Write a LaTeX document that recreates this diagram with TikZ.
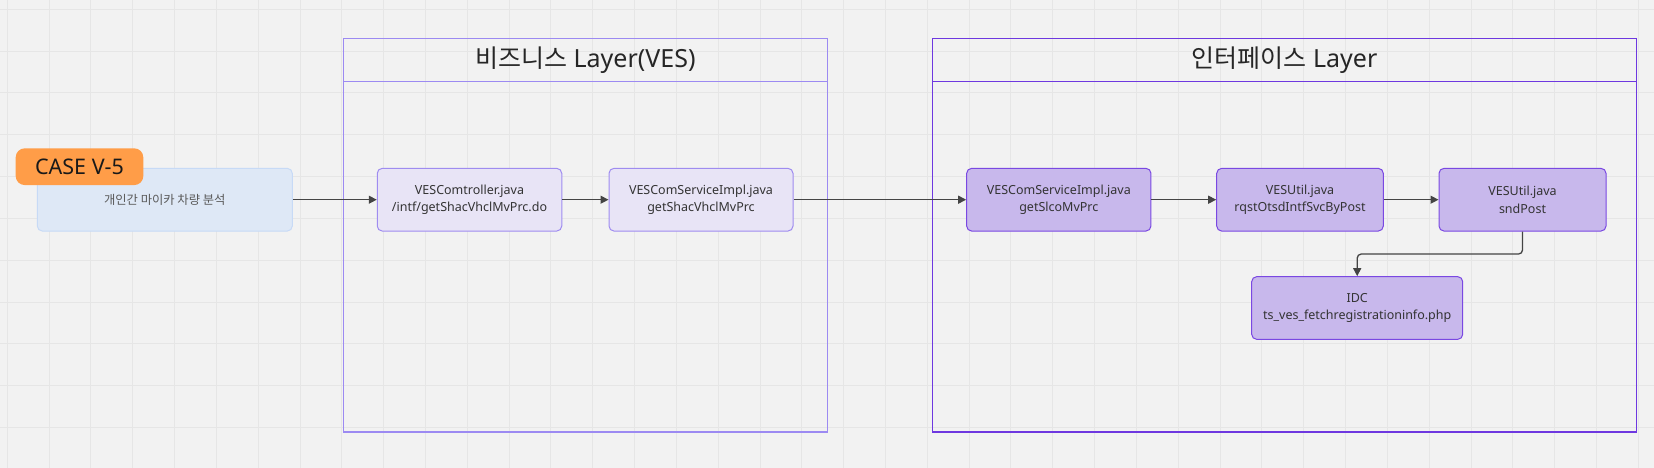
\documentclass[tikz,border=0pt]{standalone}
\usepackage{fontspec}
\setmainfont{Noto Sans}
\newfontfamily\krfont{Noto Sans CJK KR}
\usetikzlibrary{arrows.meta, calc}

\definecolor{bgpaper}{HTML}{F2F2F2}
\definecolor{gridline}{HTML}{E6E6E6}
\definecolor{bizframe}{HTML}{9C8AF2}
\definecolor{intframe}{HTML}{6E38E0}
\definecolor{bizfill}{HTML}{E8E4F6}
\definecolor{bizdraw}{HTML}{9F8CF0}
\definecolor{intfill}{HTML}{C8B8EC}
\definecolor{intdraw}{HTML}{7A48E2}
\definecolor{casefill}{HTML}{DEE8F6}
\definecolor{casedraw}{HTML}{C7DAF6}
\definecolor{badgefill}{HTML}{FF9D48}
\definecolor{inktext}{HTML}{333333}
\definecolor{flowline}{HTML}{444444}

\tikzset{
  layerbiz/.style={draw=bizframe, line width=1.1pt, minimum width=484pt, minimum height=393.7pt, inner sep=0pt},
  layerint/.style={draw=intframe, line width=1.1pt, minimum width=704.4pt, minimum height=393.7pt, inner sep=0pt},
  layertitle/.style={text=black!85, font=\fontsize{25}{30}\selectfont},
  casebox/.style={draw=casedraw, fill=casefill, line width=1pt, rounded corners=5pt, minimum width=255pt, minimum height=62.7pt, inner sep=0pt, text=black!65, font=\krfont\fontsize{12.3}{15}\selectfont},
  badge/.style={fill=badgefill, rounded corners=9pt, minimum width=127.6pt, minimum height=36.7pt, inner sep=0pt, text=black!90, font=\fontsize{21.5}{25}\selectfont},
  bizbox/.style={draw=bizdraw, fill=bizfill, line width=1pt, rounded corners=5pt, minimum height=62.7pt, inner sep=0pt, align=center, text=inktext, font=\fontsize{12.5}{17.6}\selectfont},
  intbox/.style={bizbox, draw=intdraw, fill=intfill},
  flow/.style={draw=flowline, line width=1.3pt, -{Triangle[length=8pt,width=8pt]}}
}

\begin{document}
\begin{tikzpicture}[x=1pt, y=-1pt]
      \useasboundingbox (0,0) rectangle (1654,468);
      \fill[bgpaper] (0,0) rectangle (1654,468);

      % paper grid
      \foreach \i in {0,...,39}
        \draw[gridline, line width=1pt] ({7.3+41.82*\i},0) -- ({7.3+41.82*\i},468);
      \foreach \j in {0,...,11}
        \draw[gridline, line width=1pt] (0,{9.3+41.82*\j}) -- (1654,{9.3+41.82*\j});

      % layers
      \node[layerbiz] (bizlayer) at (585.3,235.15) {};
      \node[layerint] (intlayer) at (1284.5,235.15) {};
      \draw[bizframe, line width=1.1pt] ([yshift=-43.4pt]bizlayer.north west) -- ([yshift=-43.4pt]bizlayer.north east);
      \draw[intframe, line width=1.1pt] ([yshift=-43.4pt]intlayer.north west) -- ([yshift=-43.4pt]intlayer.north east);
      \node[layertitle] (biztitle) at (585.3,60) {{\krfont 비즈니스} Layer(VES)};
      \node[layertitle] (inttitle) at (1284.5,60) {{\krfont 인터페이스} Layer};

      % case
      \node[casebox] (case) at (164.8,199.7) {개인간 마이카 차량 분석};
      \node[badge] (badge) at (79.5,166.7) {CASE V-5};

      % business layer
      \node[bizbox, minimum width=184.5pt] (ctrl) at (469.5,199.7) {VESComtroller.java\\/intf/getShacVhclMvPrc.do};
      \node[bizbox, minimum width=184pt] (bizsvc) at (701,199.7) {VESComServiceImpl.java\\getShacVhclMvPrc};

      % interface layer
      \node[intbox, minimum width=184.3pt] (intsvc) at (1058.8,199.7) {VESComServiceImpl.java\\getSlcoMvPrc};
      \node[intbox, minimum width=166.6pt] (rqst) at (1300,199.7) {VESUtil.java\\rqstOtsdIntfSvcByPost};
      \node[intbox, minimum width=167pt] (sndpost) at (1522.5,199.7) {VESUtil.java\\sndPost};
      \node[intbox, minimum width=211pt] (idc) at (1357.2,308) {IDC\\ts\_ves\_fetchregistrationinfo.php};

      \draw[flow] (case) -- (ctrl);
      \draw[flow] (ctrl) -- (bizsvc);
      \draw[flow] (bizsvc) -- (intsvc);
      \draw[flow] (intsvc) -- (rqst);
      \draw[flow] (rqst) -- (sndpost);
      \draw[flow, rounded corners=4pt] (sndpost.south) -- ++(0,22.5) -| (idc.north);
    \end{tikzpicture}
\end{document}
